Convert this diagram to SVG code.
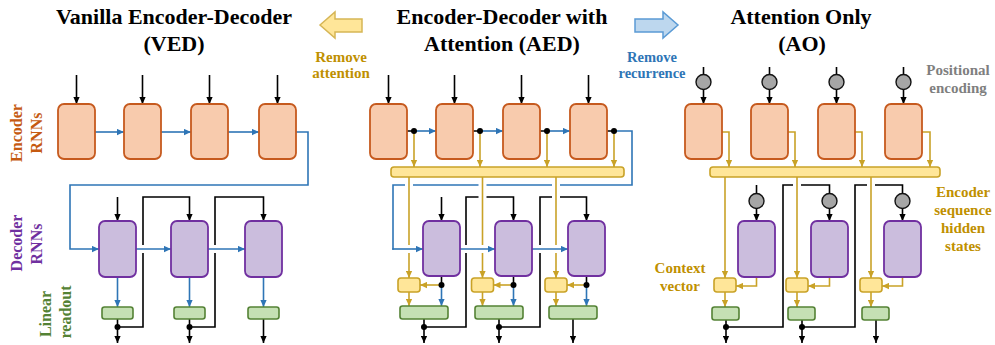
<svg xmlns="http://www.w3.org/2000/svg" width="995" height="345" viewBox="0 0 995 345">
<defs>
<style>
text{font-family:"Liberation Serif","Times New Roman",serif;font-weight:bold;text-anchor:middle}
.title{font-size:22px;fill:#000}
.lab{font-size:15px}
.side{font-size:16px}
.gold{fill:#BF9000}
.blu{fill:#2E75B6}
.gray{fill:#7F7F7F}
.orn{fill:#C55A11}
.pur{fill:#7030A0}
.grn{fill:#548235}
.enc{fill:#F8CBAD;stroke:#C65A1E;stroke-width:1.8}
.dec{fill:#CBBDDD;stroke:#7030A0;stroke-width:1.8}
.ro{fill:#C5E0B4;stroke:#548235;stroke-width:1.6}
.att{fill:#FFE699;stroke:#C9A227;stroke-width:1.6}
.pe{fill:#A6A6A6;stroke:#111;stroke-width:1.4}
.k,.b,.g,.h{fill:none;stroke-width:1.6}
.k{stroke:#000}
.b{stroke:#2E75B6}
.g{stroke:#C9A227}
.h{stroke:#fff;stroke-width:8}
.ka{marker-end:url(#ak)}
.ba{marker-end:url(#ab)}
.ga{marker-end:url(#ag)}
.dot{fill:#000}
</style>
<marker id="ak" viewBox="0 0 10 10" refX="10" refY="5" markerWidth="7" markerHeight="7" markerUnits="userSpaceOnUse" orient="auto"><path d="M0,0.5 L10,5 L0,9.5 z" fill="#000"/></marker>
<marker id="ab" viewBox="0 0 10 10" refX="10" refY="5" markerWidth="7" markerHeight="7" markerUnits="userSpaceOnUse" orient="auto"><path d="M0,0.5 L10,5 L0,9.5 z" fill="#2E75B6"/></marker>
<marker id="ag" viewBox="0 0 10 10" refX="10" refY="5" markerWidth="7" markerHeight="7" markerUnits="userSpaceOnUse" orient="auto"><path d="M0,0.5 L10,5 L0,9.5 z" fill="#C9A227"/></marker>
</defs>
<rect width="995" height="345" fill="#fff"/>

<g id="titles">
<text class="title" x="174" y="24">Vanilla Encoder-Decoder</text>
<text class="title" x="174" y="51">(VED)</text>
<text class="title" x="502" y="24">Encoder-Decoder with</text>
<text class="title" x="502" y="51">Attention (AED)</text>
<text class="title" x="801" y="24">Attention Only</text>
<text class="title" x="802" y="51">(AO)</text>
</g>

<g id="remove-attention">
<polygon points="320,25 335,12 335,19 362,19 362,32 335,32 335,38" fill="#FFE699" stroke="#D6B656" stroke-width="1.5"/>
<text class="lab gold" x="341" y="62">Remove</text>
<text class="lab gold" x="341" y="78">attention</text>
</g>
<g id="remove-recurrence">
<polygon points="635,19 663,19 663,12 678,25 663,38 663,32 635,32" fill="#BDD7EE" stroke="#5B9BD5" stroke-width="1.5"/>
<text class="lab blu" x="652" y="62" style="font-size:14.5px">Remove</text>
<text class="lab blu" x="652" y="78" style="font-size:14.5px">recurrence</text>
</g>

<g id="side-labels">
<text class="side orn" transform="translate(22,133) rotate(-90)">Encoder</text>
<text class="side orn" transform="translate(42,133) rotate(-90)">RNNs</text>
<text class="side pur" transform="translate(22,243) rotate(-90)">Decoder</text>
<text class="side pur" transform="translate(42,244) rotate(-90)">RNNs</text>
<text class="side grn" transform="translate(51,314) rotate(-90)">Linear</text>
<text class="side grn" transform="translate(71,312) rotate(-90)">readout</text>
</g>

<g id="ao-labels">
<text class="lab gray" x="958" y="75">Positional</text>
<text class="lab gray" x="958" y="93">encoding</text>
<text class="lab gold" x="963" y="197">Encoder</text>
<text class="lab gold" x="963" y="215">sequence</text>
<text class="lab gold" x="963" y="233">hidden</text>
<text class="lab gold" x="963" y="251">states</text>
<text class="lab gold" x="680" y="273">Context</text>
<text class="lab gold" x="680" y="291">vector</text>
</g>

<g id="connectors">
<!-- black -->
<path class="k ka" d="M76.5,75 V104"/>
<path class="k ka" d="M142.5,75 V104"/>
<path class="k ka" d="M209.5,75 V104"/>
<path class="k ka" d="M277.5,75 V104"/>
<path class="k ka" d="M117.5,197 V221"/>
<path class="k ka" d="M117.5,327 H143 V197 H189.5 V221"/>
<path class="k ka" d="M189.5,327 H215 V197 H263.5 V221"/>
<path class="k ka" d="M117.5,319 V343"/>
<path class="k ka" d="M189.5,319 V343"/>
<path class="k ka" d="M263.5,319 V343"/>

<path class="k ka" d="M388.5,75 V104"/>
<path class="k ka" d="M454.5,75 V104"/>
<path class="k ka" d="M521.5,75 V104"/>
<path class="k ka" d="M588.5,75 V104"/>
<path class="k" d="M407,131 H414 M473,131 H480 M540,131 H547 M607,131 H614"/>
<path class="k ka" d="M441.5,197 V221"/>
<path class="k ka" d="M424,327 H466 V197 H513.5 V221"/>
<path class="k ka" d="M499,327 H540 V197 H586.5 V221"/>
<path class="k" d="M441.5,276 V285 M513.5,276 V285 M586.5,276 V285"/>
<path class="k ka" d="M424,319 V343"/>
<path class="k ka" d="M499,319 V343"/>
<path class="k ka" d="M573,319 V343"/>

<path class="k" d="M703.5,67 V74.5 M769.5,67 V74.5 M836.5,67 V74.5 M903.5,67 V74.5"/>
<path class="k ka" d="M703.5,89.5 V104"/>
<path class="k ka" d="M769.5,89.5 V104"/>
<path class="k ka" d="M836.5,89.5 V104"/>
<path class="k ka" d="M903.5,89.5 V104"/>
<path class="k" d="M756.5,185 V193.5"/>
<path class="k" d="M726,327 H783 V185 H829.5 V193.5"/>
<path class="k" d="M802,327 H855 V185 H902.5 V193.5"/>
<path class="k ka" d="M756.5,208.5 V221"/>
<path class="k ka" d="M829.5,208.5 V221"/>
<path class="k ka" d="M902.5,208.5 V221"/>
<path class="k ka" d="M726,320 V343"/>
<path class="k ka" d="M802,320 V343"/>
<path class="k ka" d="M876,320 V343"/>

<!-- blue -->
<path class="b ba" d="M95,132 H124"/>
<path class="b ba" d="M161,132 H191"/>
<path class="b ba" d="M228,132 H259"/>
<path class="b ba" d="M296,132 H308 V185 H70 V249 H99"/>
<path class="b ba" d="M117.5,277 V307"/>
<path class="b ba" d="M189.5,277 V307"/>
<path class="b ba" d="M263.5,277 V307"/>
<path class="b ba" d="M414,131 H436"/>
<path class="b ba" d="M480,131 H503"/>
<path class="b ba" d="M547,131 H570"/>
<path class="b" d="M614,131 H632 V185 H393 V249.8"/>
<path class="b ba" d="M441.5,285 V306"/>
<path class="b ba" d="M513.5,285 V306"/>
<path class="b ba" d="M586.5,285 V306"/>

<!-- gold halos -->
<path class="h" d="M409,180 V190 M482.5,180 V202 M556,180 V202 M797,180 V190 M871,180 V190"/>

<!-- gold -->
<path class="g ga" d="M414,131 V167"/>
<path class="g ga" d="M480,131 V167"/>
<path class="g ga" d="M547,131 V167"/>
<path class="g ga" d="M614,131 V167"/>
<path class="g ga" d="M409,177 V278"/>
<path class="g ga" d="M482.5,177 V278"/>
<path class="g ga" d="M556,177 V278"/>
<path class="g ga" d="M441.5,285 H420"/>
<path class="g ga" d="M513.5,285 H493.5"/>
<path class="g ga" d="M586.5,285 H567"/>
<path class="g ga" d="M409,292 V306"/>
<path class="g ga" d="M482.5,292 V306"/>
<path class="g ga" d="M556,292 V306"/>

<path class="g ga" d="M722,132 H729 V167"/>
<path class="g ga" d="M788,132 H795 V167"/>
<path class="g ga" d="M855,132 H862 V167"/>
<path class="g ga" d="M922,132 H930 V167"/>
<path class="g ga" d="M725,177 V278"/>
<path class="g ga" d="M797,177 V278"/>
<path class="g ga" d="M871,177 V278"/>
<path class="g ga" d="M756.5,277 V286 H736"/>
<path class="g ga" d="M829.5,277 V286 H808"/>
<path class="g ga" d="M902.5,277 V286 H882"/>
<path class="g ga" d="M725,292 V307"/>
<path class="g ga" d="M797,292 V307"/>
<path class="g ga" d="M871,292 V307"/>

<!-- blue halos -->
<path class="h" d="M139,249 H147 M211,249 H219 M405,249 H413 M462,249 H470 M478.5,249 H486.5 M536,249 H544 M552,249 H560"/>

<!-- blue over -->
<path class="b ba" d="M136,249 H171"/>
<path class="b ba" d="M208,249 H245"/>
<path class="b ba" d="M392.2,249 H423"/>
<path class="b ba" d="M460,249 H495"/>
<path class="b ba" d="M532,249 H568"/>

<!-- dots -->
<circle class="dot" cx="117.5" cy="327" r="3"/>
<circle class="dot" cx="189.5" cy="327" r="3"/>
<circle class="dot" cx="414" cy="131" r="3"/>
<circle class="dot" cx="480" cy="131" r="3"/>
<circle class="dot" cx="547" cy="131" r="3"/>
<circle class="dot" cx="614" cy="131" r="3"/>
<circle class="dot" cx="441.5" cy="285" r="3"/>
<circle class="dot" cx="513.5" cy="285" r="3"/>
<circle class="dot" cx="586.5" cy="285" r="3"/>
<circle class="dot" cx="424" cy="327" r="3"/>
<circle class="dot" cx="499" cy="327" r="3"/>
<circle class="dot" cx="726" cy="327" r="3"/>
<circle class="dot" cx="802" cy="327" r="3"/>
</g>

<!-- VED nodes -->
<g id="ved-enc1"><rect class="enc" x="58" y="104" width="37" height="55" rx="6"/></g>
<g id="ved-enc2"><rect class="enc" x="124" y="104" width="37" height="55" rx="6"/></g>
<g id="ved-enc3"><rect class="enc" x="191" y="104" width="37" height="55" rx="6"/></g>
<g id="ved-enc4"><rect class="enc" x="259" y="104" width="37" height="55" rx="6"/></g>
<g id="ved-dec1"><rect class="dec" x="99" y="221" width="37" height="56" rx="6"/></g>
<g id="ved-dec2"><rect class="dec" x="171" y="221" width="37" height="56" rx="6"/></g>
<g id="ved-dec3"><rect class="dec" x="245" y="221" width="37" height="56" rx="6"/></g>
<g id="ved-ro1"><rect class="ro" x="102" y="307" width="31" height="12" rx="2.5"/></g>
<g id="ved-ro2"><rect class="ro" x="174" y="307" width="31" height="12" rx="2.5"/></g>
<g id="ved-ro3"><rect class="ro" x="248" y="307" width="31" height="12" rx="2.5"/></g>

<!-- AED nodes -->
<g id="aed-enc1"><rect class="enc" x="370" y="104" width="37" height="55" rx="6"/></g>
<g id="aed-enc2"><rect class="enc" x="436" y="104" width="37" height="55" rx="6"/></g>
<g id="aed-enc3"><rect class="enc" x="503" y="104" width="37" height="55" rx="6"/></g>
<g id="aed-enc4"><rect class="enc" x="570" y="104" width="37" height="55" rx="6"/></g>
<g id="aed-bar"><rect class="att" x="391" y="167" width="233" height="10" rx="3"/></g>
<g id="aed-dec1"><rect class="dec" x="423" y="221" width="37" height="55" rx="6"/></g>
<g id="aed-dec2"><rect class="dec" x="495" y="221" width="37" height="55" rx="6"/></g>
<g id="aed-dec3"><rect class="dec" x="568" y="221" width="37" height="55" rx="6"/></g>
<g id="aed-att1"><rect class="att" x="398" y="278" width="22" height="14" rx="3"/></g>
<g id="aed-att2"><rect class="att" x="471.5" y="278" width="22" height="14" rx="3"/></g>
<g id="aed-att3"><rect class="att" x="545" y="278" width="22" height="14" rx="3"/></g>
<g id="aed-ro1"><rect class="ro" x="400" y="306" width="48" height="13" rx="2.5"/></g>
<g id="aed-ro2"><rect class="ro" x="475" y="306" width="48" height="13" rx="2.5"/></g>
<g id="aed-ro3"><rect class="ro" x="549" y="306" width="48" height="13" rx="2.5"/></g>

<!-- AO nodes -->
<g id="ao-pe1"><circle class="pe" cx="703.5" cy="82" r="7.5"/></g>
<g id="ao-pe2"><circle class="pe" cx="769.5" cy="82" r="7.5"/></g>
<g id="ao-pe3"><circle class="pe" cx="836.5" cy="82" r="7.5"/></g>
<g id="ao-pe4"><circle class="pe" cx="903.5" cy="82" r="7.5"/></g>
<g id="ao-enc1"><rect class="enc" x="685" y="104" width="37" height="55" rx="6"/></g>
<g id="ao-enc2"><rect class="enc" x="751" y="104" width="37" height="55" rx="6"/></g>
<g id="ao-enc3"><rect class="enc" x="818" y="104" width="37" height="55" rx="6"/></g>
<g id="ao-enc4"><rect class="enc" x="885" y="104" width="37" height="55" rx="6"/></g>
<g id="ao-bar"><rect class="att" x="710" y="167" width="230" height="10" rx="3"/></g>
<g id="ao-pe5"><circle class="pe" cx="756.5" cy="201" r="7.5"/></g>
<g id="ao-pe6"><circle class="pe" cx="829.5" cy="201" r="7.5"/></g>
<g id="ao-pe7"><circle class="pe" cx="902.5" cy="201" r="7.5"/></g>
<g id="ao-dec1"><rect class="dec" x="738" y="221" width="37" height="56" rx="6"/></g>
<g id="ao-dec2"><rect class="dec" x="811" y="221" width="37" height="56" rx="6"/></g>
<g id="ao-dec3"><rect class="dec" x="884" y="221" width="37" height="56" rx="6"/></g>
<g id="ao-att1"><rect class="att" x="714" y="278" width="22" height="14" rx="3"/></g>
<g id="ao-att2"><rect class="att" x="786" y="278" width="22" height="14" rx="3"/></g>
<g id="ao-att3"><rect class="att" x="860" y="278" width="22" height="14" rx="3"/></g>
<g id="ao-ro1"><rect class="ro" x="712" y="307" width="27" height="13" rx="2.5"/></g>
<g id="ao-ro2"><rect class="ro" x="788" y="307" width="27" height="13" rx="2.5"/></g>
<g id="ao-ro3"><rect class="ro" x="862" y="307" width="27" height="13" rx="2.5"/></g>
</svg>
